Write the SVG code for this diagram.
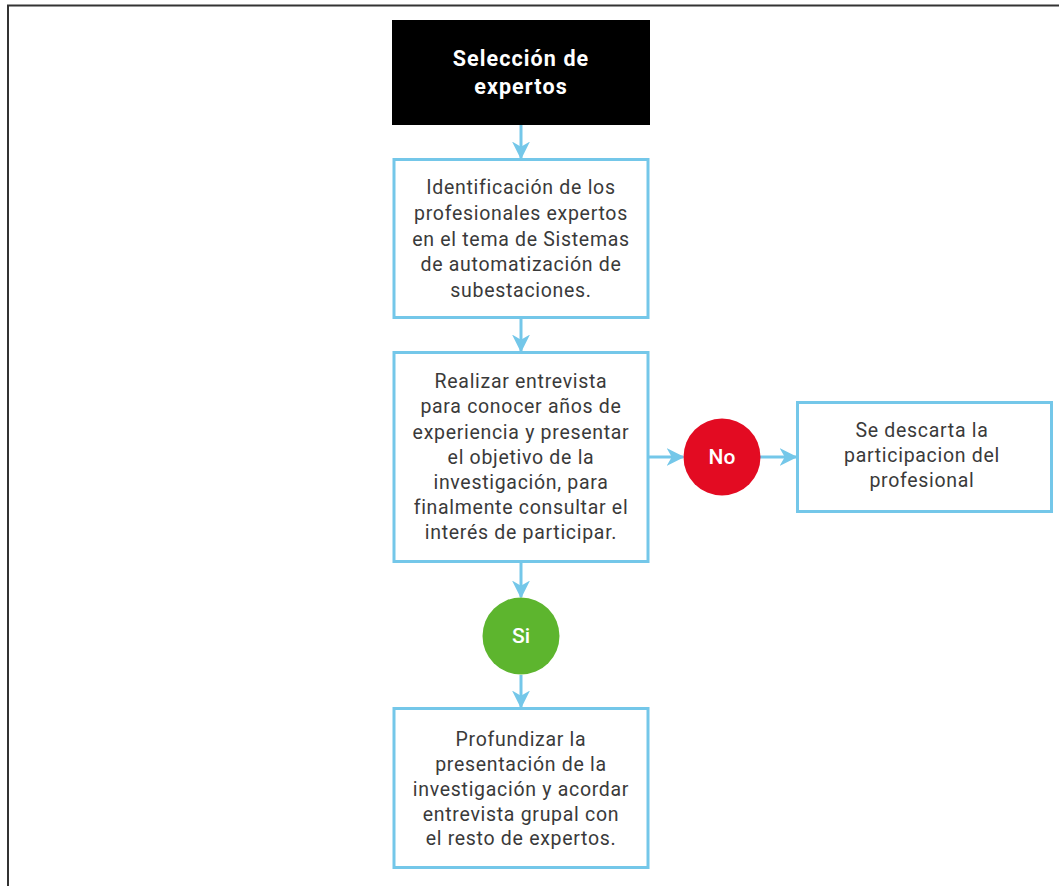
<svg xmlns="http://www.w3.org/2000/svg" width="1059" height="886" viewBox="0 0 1059 886">
<style>
.box{fill:#fff;stroke:#74c7e9;stroke-width:3}
.t{font-family:Roboto,"Liberation Sans",sans-serif;font-size:19.5px;letter-spacing:0.7px;fill:#3a3a3a;text-anchor:middle}
.tw{font-family:Roboto,"Liberation Sans",sans-serif;font-size:21.5px;letter-spacing:1.1px;font-weight:bold;fill:#fff;text-anchor:middle}
.c{font-family:Roboto,"Liberation Sans",sans-serif;font-size:21px;font-weight:500;fill:#fff;text-anchor:middle}
.ln{stroke:#74c7e9;stroke-width:3;fill:none}
</style>
<defs>
<marker id="ah" viewBox="0 0 12 12" refX="11" refY="6" markerWidth="6" markerHeight="6" markerUnits="strokeWidth" orient="auto">
<path d="M0,0 L12,6 L0,12 L3.5,6 Z" fill="#74c7e9"/>
</marker>
</defs>
<rect width="1059" height="886" fill="#fff"/>
<path d="M8,886 V5.5 H1059" fill="none" stroke="#333" stroke-width="2"/>
<g id="connectors">
<line class="ln" x1="521" y1="125" x2="521" y2="158" marker-end="url(#ah)"/>
<line class="ln" x1="521" y1="318" x2="521" y2="351" marker-end="url(#ah)"/>
<line class="ln" x1="648" y1="457" x2="683" y2="457" marker-end="url(#ah)"/>
<line class="ln" x1="760" y1="457" x2="796" y2="457" marker-end="url(#ah)"/>
<line class="ln" x1="521" y1="562" x2="521" y2="597" marker-end="url(#ah)"/>
<line class="ln" x1="521" y1="675" x2="521" y2="707" marker-end="url(#ah)"/>
</g>
<g id="n1">
<rect x="392" y="20" width="258" height="105" fill="#000"/>
<text class="tw" x="521" y="66">Selección de</text>
<text class="tw" x="521" y="94">expertos</text>
</g>
<g id="n2">
<rect class="box" x="394" y="159.5" width="254" height="158"/>
<text class="t" x="521" y="194">Identificación de los</text>
<text class="t" x="521" y="220">profesionales expertos</text>
<text class="t" x="521" y="246">en el tema de Sistemas</text>
<text class="t" x="521" y="271">de automatización de</text>
<text class="t" x="521" y="297">subestaciones.</text>
</g>
<g id="n3">
<rect class="box" x="394" y="352.5" width="254" height="209"/>
<text class="t" x="521" y="388">Realizar entrevista</text>
<text class="t" x="521" y="413">para conocer años de</text>
<text class="t" x="521" y="439">experiencia y presentar</text>
<text class="t" x="521" y="464">el objetivo de la</text>
<text class="t" x="521" y="489">investigación, para</text>
<text class="t" x="521" y="514">finalmente consultar el</text>
<text class="t" x="521" y="539">interés de participar.</text>
</g>
<g id="no">
<circle cx="722" cy="457" r="38.5" fill="#e30b22"/>
<text class="c" x="722" y="464">No</text>
</g>
<g id="n4">
<rect class="box" x="797.5" y="402.5" width="254" height="109"/>
<text class="t" x="922" y="437">Se descarta la</text>
<text class="t" x="922" y="462">participacion del</text>
<text class="t" x="922" y="487">profesional</text>
</g>
<g id="si">
<circle cx="521" cy="636" r="38.5" fill="#5db52e"/>
<text class="c" x="521" y="643">Si</text>
</g>
<g id="n5">
<rect class="box" x="394" y="708.5" width="254" height="159"/>
<text class="t" x="521" y="746">Profundizar la</text>
<text class="t" x="521" y="771">presentación de la</text>
<text class="t" x="521" y="796">investigación y acordar</text>
<text class="t" x="521" y="821">entrevista grupal con</text>
<text class="t" x="521" y="845">el resto de expertos.</text>
</g>
</svg>
